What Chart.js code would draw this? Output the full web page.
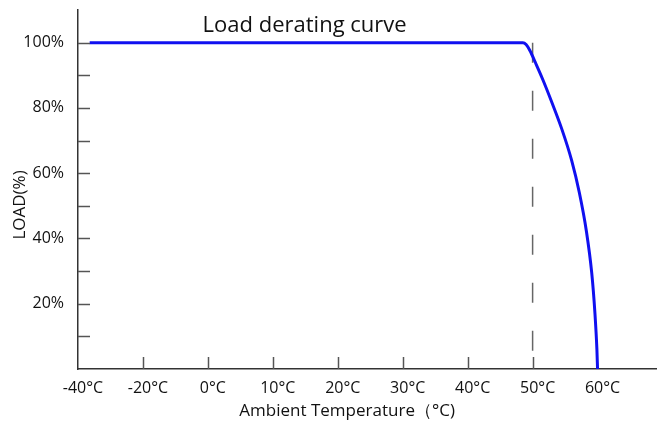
<!DOCTYPE html>
<html>
<head>
<meta charset="utf-8">
<script src="https://cdn.jsdelivr.net/npm/chart.js@4"></script>
<style>
    html, body { margin: 0; padding: 0; background: #fff; }
    canvas { display: block; }
</style>
</head>
<body>
<canvas id="chart" width="658" height="421"></canvas>
<script>
// tick labels on the x axis (the axis is evenly spaced per label, not per degree)
const tickLabels = ['-40°C', '-20°C', '0°C', '10°C', '20°C', '30°C', '40°C', '50°C', '60°C'];
const tickTemps = [-40, -20, 0, 10, 20, 30, 40, 50, 60];

// derating curve
const curveTemps = [-36.4, 48.5, 49.0, 49.6, 50.4, 51.5, 53.0, 54.5, 56.0, 57.2, 58.3, 59.1, 59.6, 59.9, 60];
const curveLoads = [100, 100, 99.4, 97.5, 94, 89, 81.5, 73.5, 64, 54, 42, 29.5, 17, 6, 0];

// dashed marker at 50°C
const markerTemps = [50, 50];
const markerLoads = [100, 0];

const FONT = "'Open Sans', 'Noto Sans', sans-serif";
// trailing spaces nudge the centred axis titles off-centre like the original
const PAD = (n) => '\u00a0'.repeat(n);

/**
 * Maps a temperature onto the label-indexed axis position.
 */
function tempToPos(t) {
    for (let i = 0; i < tickTemps.length - 1; i++) {
        if (t <= tickTemps[i + 1]) {
            return i + (t - tickTemps[i]) / (tickTemps[i + 1] - tickTemps[i]);
        }
    }
    return tickTemps.length - 1 + (t - tickTemps[tickTemps.length - 1]) / 10;
}

function toPoints(xs, ys) {
    return xs.map((t, i) => ({ x: tempToPos(t), y: ys[i] }));
}

// draws the short inward tick marks and the title
const innerTicks = {
    id: 'innerTicks',
    afterDraw(chart) {
        const { ctx, chartArea, scales } = chart;
        ctx.save();
        ctx.strokeStyle = '#555';
        ctx.lineWidth = 1.5;
        scales.y.ticks.forEach(t => {
            if (t.value <= 0 || t.value > 100) return;
            const y = Math.round(scales.y.getPixelForValue(t.value)) + 0.5;
            ctx.beginPath();
            ctx.moveTo(chartArea.left, y);
            ctx.lineTo(chartArea.left + 12, y);
            ctx.stroke();
        });
        scales.x.ticks.forEach(t => {
            if (t.value <= 0 || t.value >= tickLabels.length - 1) return;
            const x = Math.round(scales.x.getPixelForValue(t.value)) + 0.5;
            ctx.beginPath();
            ctx.moveTo(x, chartArea.bottom);
            ctx.lineTo(x, chartArea.bottom - 12);
            ctx.stroke();
        });
        ctx.fillStyle = '#111';
        ctx.font = '22px ' + FONT;
        ctx.textAlign = 'center';
        ctx.textBaseline = 'alphabetic';
        ctx.fillText('Load derating curve', scales.x.getPixelForValue(3.49), 32);
        ctx.restore();
    }
};

new Chart(document.getElementById('chart'), {
    type: 'line',
    data: {
        datasets: [{
            data: toPoints(curveTemps, curveLoads),
            borderColor: '#1010f0',
            borderWidth: 3,
            pointRadius: 0,
            cubicInterpolationMode: 'monotone',
            clip: false
        }, {
            data: toPoints(markerTemps, markerLoads),
            borderColor: '#666',
            borderWidth: 1.5,
            borderDash: [20, 28],
            pointRadius: 0
        }]
    },
    options: {
        responsive: false,
        animation: false,
        devicePixelRatio: 1,
        layout: { padding: { top: 10, right: -6, left: 0, bottom: 0 } },
        plugins: {
            legend: { display: false },
            tooltip: { enabled: false }
        },
        scales: {
            x: {
                type: 'linear',
                min: 0,
                max: 8.9,
                afterFit: (scale) => { scale.height = 52; },
                grid: { display: false },
                border: { color: '#333', width: 1.5 },
                ticks: {
                    stepSize: 1,
                    padding: 2,
                    labelOffset: 5,
                    color: '#111',
                    font: { family: FONT, size: 16 },
                    maxRotation: 0,
                    autoSkip: false,
                    callback: (v) => Number.isInteger(v) && tickLabels[v] !== undefined ? tickLabels[v] : ''
                },
                title: {
                    display: true,
                    text: 'Ambient Temperature（°C)' + PAD(9),
                    color: '#111',
                    font: { family: FONT, size: 17 },
                    padding: { top: 5, bottom: 0 }
                }
            },
            y: {
                min: 0,
                max: 110,
                afterFit: (scale) => { scale.width = 78; scale.paddingTop = 0; },
                grid: { display: false },
                border: { color: '#333', width: 1.5 },
                ticks: {
                    stepSize: 10,
                    padding: 6,
                    color: '#111',
                    font: { family: FONT, size: 16 },
                    autoSkip: false,
                    callback: (v) => (v > 0 && v <= 100 && v % 20 === 0) ? v + '%' : ''
                },
                title: {
                    display: true,
                    text: 'LOAD(%)' + PAD(7),
                    color: '#111',
                    font: { family: FONT, size: 17 },
                    padding: { top: 10, bottom: 0 }
                }
            }
        }
    },
    plugins: [innerTicks]
});
</script>
</body>
</html>
